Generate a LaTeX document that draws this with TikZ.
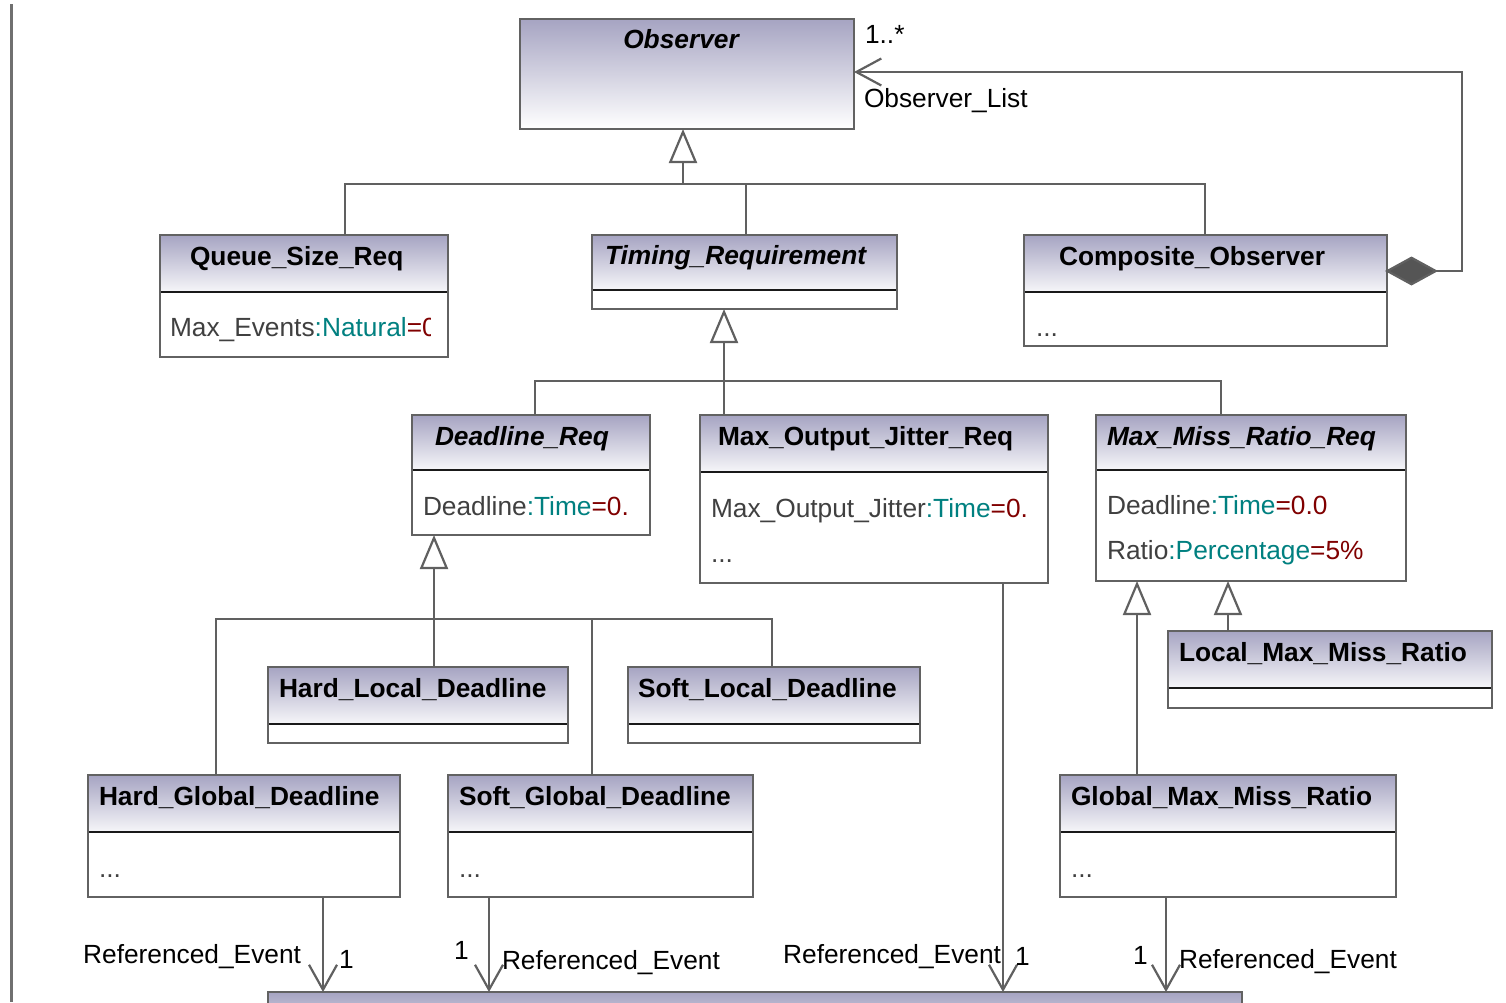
\documentclass[tikz,border=0pt]{standalone}
\usepackage{fontspec}
\setmainfont{Liberation Sans}
\usetikzlibrary{arrows.meta,calc}

\definecolor{hdtop}{RGB}{166,164,194}
\definecolor{hdbot}{RGB}{246,246,249}
\definecolor{framegray}{RGB}{98,98,98}
\definecolor{linegray}{RGB}{96,96,96}
\definecolor{diamgray}{RGB}{85,85,85}
\definecolor{attrgray}{RGB}{64,64,64}
\definecolor{typeteal}{RGB}{0,128,128}
\definecolor{valred}{RGB}{128,0,0}

% class box: name, x, y, width, height, header height
\newcommand\umlbox[6]{%
  \node[clsframe, minimum width=#4pt, minimum height=#5pt] (#1) at (#2,#3) {};
  \shade[top color=hdtop, bottom color=hdbot] (#1.north west) rectangle ([yshift=-#6pt]#1.north east);
  \draw[sepline] ([yshift=-#6pt]#1.north west) -- ([yshift=-#6pt]#1.north east);
  \draw[boxframe] (#1.north west) rectangle (#1.south east);
}
% attribute: name, type, default value
\newcommand\umlattr[3]{\textcolor{attrgray}{#1}\textcolor{typeteal}{:#2}\textcolor{valred}{=#3}}

\begin{document}
\begin{tikzpicture}[x=1pt,y=-1pt,
  txt/.style={inner sep=0pt, outer sep=0pt, font=\fontsize{26.3}{31}\selectfont},
  classtitle/.style={txt, font=\fontsize{26.3}{31}\selectfont\bfseries, anchor=base west},
  abstitle/.style={classtitle, font=\fontsize{26.3}{31}\selectfont\bfseries\itshape},
  attrtext/.style={txt, anchor=base west, text=attrgray},
  lbl/.style={txt, text=black},
  clsframe/.style={rectangle, fill=white, inner sep=0pt, outer sep=0pt, anchor=north west},
  boxframe/.style={draw=framegray, line width=2.4pt},
  sepline/.style={draw=black!90, line width=2.6pt},
  conn/.style={draw=linegray, line width=2.2pt},
  gen/.style={conn, -{Triangle[length=34pt,width=28pt,fill=white]}},
  assoc/.style={conn, -{Straight Barb[length=25pt,width=28pt]}},
]
\useasboundingbox (0,0) rectangle (1506,1002);
\clip (0,0) rectangle (1506,1002);
\fill[white] (0,0) rectangle (1506,1002);

% frame line on the left
\draw[line width=3pt, draw=linegray!90] (11,4) -- (11,1002);

% ---------- classes ----------
\node[clsframe, minimum width=334pt, minimum height=110pt] (obs) at (520,19) {};
\shade[top color=hdtop, bottom color=white] (obs.north west) rectangle (obs.south east);
\draw[boxframe] (obs.north west) rectangle (obs.south east);
\node[abstitle, anchor=base] (obsT) at (681,48) {Observer};

\umlbox{qsr}{160}{235}{288}{122}{57}
\umlbox{tr}{592}{235}{305}{74}{55}
\umlbox{co}{1024}{235}{363}{111}{57}
\umlbox{dr}{412}{415}{238}{120}{55}
\umlbox{moj}{700}{415}{348}{168}{57}
\umlbox{mmr}{1096}{415}{310}{166}{55}
\umlbox{hld}{268}{667}{300}{76}{57}
\umlbox{sld}{628}{667}{292}{76}{57}
\umlbox{lmmr}{1168}{631}{324}{77}{57}
\umlbox{hgd}{88}{775}{312}{122}{57}
\umlbox{sgd}{448}{775}{305}{122}{57}
\umlbox{gmmr}{1060}{775}{336}{122}{57}
\umlbox{ev}{268}{992}{974}{80}{57}

% class names
\node[classtitle] (qsrT)  at ([shift={(30pt,-30pt)}]qsr.north west)  {Queue\_Size\_Req};
\node[abstitle]   (trT)   at ([shift={(13pt,-29pt)}]tr.north west)   {Timing\_Requirement};
\node[classtitle] (coT)   at ([shift={(35pt,-30pt)}]co.north west)   {Composite\_Observer};
\node[abstitle]   (drT)   at ([shift={(23pt,-30pt)}]dr.north west)   {Deadline\_Req};
\node[classtitle] (mojT)  at ([shift={(18pt,-30pt)}]moj.north west)  {Max\_Output\_Jitter\_Req};
\node[abstitle]   (mmrT)  at ([shift={(11pt,-30pt)}]mmr.north west)  {Max\_Miss\_Ratio\_Req};
\node[classtitle] (hldT)  at ([shift={(11pt,-30pt)}]hld.north west)  {Hard\_Local\_Deadline};
\node[classtitle] (sldT)  at ([shift={(10pt,-30pt)}]sld.north west)  {Soft\_Local\_Deadline};
\node[classtitle] (lmmrT) at ([shift={(11pt,-30pt)}]lmmr.north west) {Local\_Max\_Miss\_Ratio};
\node[classtitle] (hgdT)  at ([shift={(11pt,-30pt)}]hgd.north west)  {Hard\_Global\_Deadline};
\node[classtitle] (sgdT)  at ([shift={(11pt,-30pt)}]sgd.north west)  {Soft\_Global\_Deadline};
\node[classtitle] (gmmrT) at ([shift={(11pt,-30pt)}]gmmr.north west) {Global\_Max\_Miss\_Ratio};

% attributes
\begin{scope}
  \clip (qsr.north west) rectangle ([xshift=-18pt]qsr.south east);
  \node[attrtext] (qsrA) at (170,336) {\umlattr{Max\_Events}{Natural}{0}};
\end{scope}
\node[attrtext] (drA)   at (423,515)  {\umlattr{Deadline}{Time}{0.}};
\node[attrtext] (mojA)  at (711,517)  {\umlattr{Max\_Output\_Jitter}{Time}{0.}};
\node[attrtext] (mojB)  at (711,562)  {...};
\node[attrtext] (mmrA)  at (1107,514) {\umlattr{Deadline}{Time}{0.0}};
\node[attrtext] (mmrB)  at (1107,559) {\umlattr{Ratio}{Percentage}{5\%}};
\node[attrtext] (coA)   at (1036,336) {...};
\node[attrtext] (hgdA)  at (99,877)   {...};
\node[attrtext] (sgdA)  at (459,877)  {...};
\node[attrtext] (gmmrA) at (1071,877) {...};

% ---------- generalizations ----------
\coordinate (j1) at (683,184);
\coordinate (qsrU) at ([xshift=185pt]qsr.north west);
\coordinate (trU)  at ([xshift=154pt]tr.north west);
\coordinate (coU)  at ([xshift=181pt]co.north west);
\draw[conn] (qsrU) |- (coU |- j1) -- (coU);
\draw[conn] (trU) -- (trU |- j1);
\draw[gen] (j1) -- (j1 |- obs.south);

\coordinate (j2) at (724,381);
\coordinate (drU)  at ([xshift=123pt]dr.north west);
\coordinate (mmrU) at ([xshift=125pt]mmr.north west);
\draw[conn] (drU) |- (mmrU |- j2) -- (mmrU);
\draw[conn] (j2) -- (j2 |- moj.north);
\draw[gen] (j2) -- (j2 |- tr.south);

\coordinate (j3) at (434,619);
\coordinate (hgdU) at ([xshift=128pt]hgd.north west);
\coordinate (sgdU) at ([xshift=144pt]sgd.north west);
\coordinate (sldU) at ([xshift=144pt]sld.north west);
\draw[conn] (hgdU) |- (sldU |- j3) -- (sldU);
\draw[conn] (sgdU) -- (sgdU |- j3);
\draw[conn] (j3) -- (j3 |- hld.north);
\draw[gen] (j3) -- (j3 |- dr.south);

\coordinate (gmmrU) at ([xshift=77pt]gmmr.north west);
\coordinate (lmmrU) at ([xshift=60pt]lmmr.north west);
\draw[gen] (gmmrU) -- (gmmrU |- mmr.south);
\draw[gen] (lmmrU) -- (lmmrU |- mmr.south);

% ---------- composition: Observer_List ----------
\coordinate (coR)  at ([shift={(-2pt,-36pt)}]co.north east);
\coordinate (obsR) at ([yshift=-53pt]obs.north east);
\draw[conn, {Diamond[length=53pt,width=29pt,fill=diamgray]}-{Straight Barb[length=25pt,width=27pt]}]
  (coR) -- ++(77,0) |- (obsR);
\node[lbl, anchor=base west] (mult0) at (865,43)  {1..*};
\node[lbl, anchor=base west] (role0) at (864,107) {Observer\_List};

% ---------- associations: Referenced_Event ----------
\coordinate (a1) at ([xshift=235pt]hgd.south west);
\coordinate (a2) at ([xshift=41pt]sgd.south west);
\coordinate (a3) at ([xshift=303pt]moj.south west);
\coordinate (a4) at ([xshift=106pt]gmmr.south west);
\draw[assoc] (a1) -- (a1 |- ev.north);
\draw[assoc] (a2) -- (a2 |- ev.north);
\draw[assoc] (a3) -- (a3 |- ev.north);
\draw[assoc] (a4) -- (a4 |- ev.north);

\node[lbl, anchor=base east] (role1) at (301,963)  {Referenced\_Event};
\node[lbl, anchor=base west] (mult1) at (339,968)  {1};
\node[lbl, anchor=base west] (mult2) at (454,959)  {1};
\node[lbl, anchor=base west] (role2) at (502,969)  {Referenced\_Event};
\node[lbl, anchor=base east] (role3) at (1001,963) {Referenced\_Event};
\node[lbl, anchor=base west] (mult3) at (1015,965) {1};
\node[lbl, anchor=base west] (mult4) at (1133,964) {1};
\node[lbl, anchor=base west] (role4) at (1179,968) {Referenced\_Event};
\end{tikzpicture}
\end{document}
